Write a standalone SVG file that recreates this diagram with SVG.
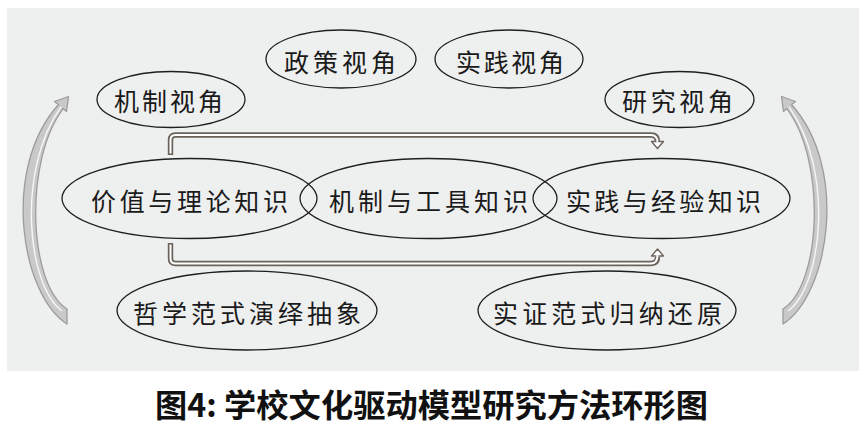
<svg xmlns="http://www.w3.org/2000/svg" width="866" height="426" viewBox="0 0 866 426">
<defs>
<style>
.ell{fill:none;stroke:#1e1e1e;stroke-width:1.3}
.lbl{font-family:"Noto Sans CJK SC","Noto Sans CJK JP",sans-serif;font-size:25px;fill:#1a1a1a;text-anchor:middle;dominant-baseline:central}
.cap{font-family:"Noto Sans CJK SC","Noto Sans CJK JP",sans-serif;font-size:32px;font-weight:bold;fill:#111;text-anchor:middle;dominant-baseline:central}
.bandOut{fill:none;stroke:#6a625b;stroke-width:5.4}
.bandIn{fill:none;stroke:#ffffff;stroke-width:2}
.head{fill:#ffffff;stroke:#6a625b;stroke-width:1.3;stroke-linejoin:round}
.side{fill:#c9c9c9;stroke:#9c9c9c;stroke-width:1.3;stroke-linejoin:round}
.shine{fill:none;stroke:#f6f6f6;stroke-width:1.4}
</style>
<path id="sideArrow" d="M67,324 C22,296 0,170 58.5,104.5 L54.5,101.5 L68.5,96.5 L66.5,111.5 L63.2,108.6 C24,160 28,284 67,309 Z"/>
</defs>
<rect x="0" y="0" width="866" height="426" fill="#ffffff"/>
<rect x="7" y="8" width="852" height="363" fill="#eeefef"/>

<g id="connectors">
  <path class="bandOut" d="M170.5,155 V140 Q170.5,135 175.5,135 H651 Q657.5,135 657.5,141.5"/>
  <polygon class="head" points="651.5,141.5 663.5,141.5 657.5,148.5"/>
  <path class="bandIn" d="M170.5,153.6 V140 Q170.5,135 175.5,135 H651 Q657.5,135 657.5,142.5"/>

  <path class="bandOut" d="M170.5,243 V258.5 Q170.5,263.5 175.5,263.5 H651 Q657.5,263.5 657.5,257"/>
  <polygon class="head" points="651.5,256 663.5,256 657.5,249"/>
  <path class="bandIn" d="M170.5,244.4 V258.5 Q170.5,263.5 175.5,263.5 H651 Q657.5,263.5 657.5,255"/>

  <use href="#sideArrow" class="side"/>
  <path class="shine" d="M62,311 C27,285 16,170 61,107"/>
  <g transform="translate(850,0) scale(-1,1)">
    <use href="#sideArrow" class="side"/>
    <path class="shine" d="M62,311 C27,285 16,170 61,107"/>
  </g>
</g>

<g id="node-jizhi-shijiao">
  <ellipse class="ell" cx="171" cy="99.5" rx="74" ry="28"/>
  <text class="lbl" x="168.5" y="100" textLength="109">机制视角</text>
</g>
<g id="node-zhengce-shijiao">
  <ellipse class="ell" cx="341" cy="59" rx="75" ry="29"/>
  <text class="lbl" x="340" y="61" textLength="112">政策视角</text>
</g>
<g id="node-shijian-shijiao">
  <ellipse class="ell" cx="509" cy="59" rx="74" ry="29"/>
  <text class="lbl" x="510" y="61" textLength="108">实践视角</text>
</g>
<g id="node-yanjiu-shijiao">
  <ellipse class="ell" cx="679.5" cy="99.5" rx="74.5" ry="28"/>
  <text class="lbl" x="677.5" y="100" textLength="111">研究视角</text>
</g>

<g id="node-jiazhi">
  <ellipse class="ell" cx="189.5" cy="198.5" rx="127.5" ry="40"/>
  <text class="lbl" x="189.5" y="200" textLength="197">价值与理论知识</text>
</g>
<g id="node-jizhi-gongju">
  <ellipse class="ell" cx="428.5" cy="198.5" rx="128.5" ry="40"/>
  <text class="lbl" x="428.5" y="200" textLength="199">机制与工具知识</text>
</g>
<g id="node-shijian-jingyan">
  <ellipse class="ell" cx="661.5" cy="198.5" rx="128.5" ry="40"/>
  <text class="lbl" x="663.5" y="200" textLength="195">实践与经验知识</text>
</g>

<g id="node-zhexue">
  <ellipse class="ell" cx="247" cy="310.5" rx="130" ry="39.5"/>
  <text class="lbl" x="247" y="311.5" textLength="228">哲学范式演绎抽象</text>
</g>
<g id="node-shizheng">
  <ellipse class="ell" cx="607" cy="310.5" rx="129" ry="39.5"/>
  <text class="lbl" x="607.5" y="311.5" textLength="229">实证范式归纳还原</text>
</g>

<g id="caption">
  <text class="cap" x="431.5" y="403" textLength="553" lengthAdjust="spacingAndGlyphs">图4: 学校文化驱动模型研究方法环形图</text>
</g>
</svg>
